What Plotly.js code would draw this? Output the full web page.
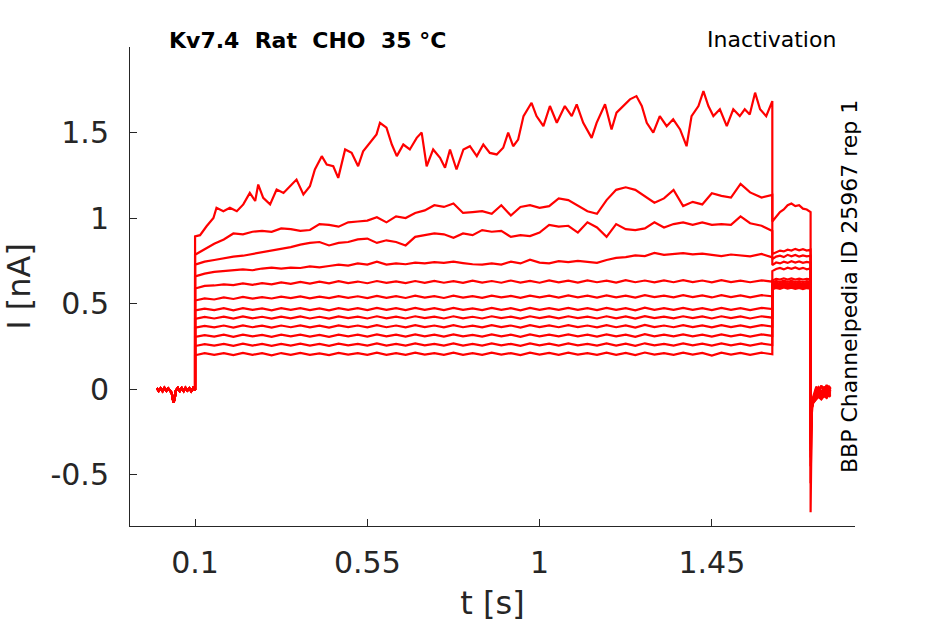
<!DOCTYPE html>
<html>
<head>
<meta charset="utf-8">
<script src="https://cdn.plot.ly/plotly-3.0.1.min.js"></script>
<style>
  html, body { margin: 0; padding: 0; background: #fff; }
  #chart { width: 945px; height: 624px; }
</style>
</head>
<body>
<div id="chart"></div>
<script>
  // holding period before the step (all sweeps overlap here)
  const baseTime = [0, 0.005, 0.01, 0.015, 0.02, 0.025, 0.03, 0.035, 0.039, 0.042, 0.044, 0.047,
    0.05, 0.055, 0.06, 0.065, 0.07, 0.075, 0.08, 0.085, 0.09, 0.095, 0.1];
  const baseCurrent = [0.006, -0.01, 0.005, -0.012, 0.008, -0.009, 0.004, -0.013, -0.022, -0.06, -0.078, -0.05,
    -0.008, 0.007, -0.011, 0.006, -0.012, 0.008, -0.008, 0.005, -0.012, 0.006, -0.005];

  // top sweep, read point by point
  const sweep1Time = [0.1, 0.113, 0.13, 0.148, 0.156, 0.174, 0.191, 0.209, 0.226, 0.243, 0.257, 0.265,
    0.278, 0.296, 0.313, 0.331, 0.348, 0.365, 0.383, 0.4, 0.413, 0.431, 0.444, 0.461, 0.474, 0.492,
    0.509, 0.526, 0.539, 0.557, 0.574, 0.583, 0.6, 0.614, 0.627, 0.644, 0.661, 0.679, 0.692, 0.705,
    0.722, 0.74, 0.753, 0.766, 0.783, 0.801, 0.818, 0.836, 0.853, 0.87, 0.888, 0.905, 0.918, 0.931,
    0.944, 0.958, 0.979, 0.992, 1.01, 1.027, 1.045, 1.066, 1.084, 1.097, 1.114, 1.136, 1.149, 1.171,
    1.188, 1.201, 1.219, 1.236, 1.253, 1.267, 1.28, 1.297, 1.314, 1.332, 1.349, 1.367, 1.384, 1.397,
    1.415, 1.428, 1.441, 1.454, 1.471, 1.489, 1.506, 1.523, 1.536, 1.549, 1.563, 1.576, 1.592, 1.608];
  const sweep1Current = [0.893, 0.9, 0.952, 1.0, 1.06, 1.04, 1.06, 1.04, 1.08, 1.147, 1.1, 1.196,
    1.118, 1.08, 1.167, 1.147, 1.186, 1.225, 1.138, 1.186, 1.284, 1.362, 1.313, 1.303, 1.235, 1.401,
    1.381, 1.303, 1.39, 1.44, 1.489, 1.557, 1.528, 1.43, 1.362, 1.43, 1.401, 1.469, 1.5, 1.303,
    1.401, 1.352, 1.294, 1.401, 1.284, 1.401, 1.42, 1.362, 1.43, 1.381, 1.372, 1.411, 1.499, 1.42,
    1.459, 1.596, 1.674, 1.596, 1.537, 1.655, 1.557, 1.655, 1.596, 1.665, 1.557, 1.469, 1.557, 1.665,
    1.518, 1.616, 1.655, 1.694, 1.713, 1.655, 1.557, 1.499, 1.596, 1.537, 1.577, 1.518, 1.42, 1.596,
    1.655, 1.742, 1.655, 1.596, 1.636, 1.537, 1.636, 1.596, 1.636, 1.606, 1.733, 1.636, 1.596, 1.684];

  // the other sweeps share a 25 ms grid during the step
  const stepTime = [
    0.1, 0.125, 0.15, 0.175, 0.2, 0.225, 0.25, 0.275, 0.3, 0.325,
    0.35, 0.375, 0.4, 0.425, 0.45, 0.475, 0.5, 0.525, 0.55, 0.575,
    0.6, 0.625, 0.65, 0.675, 0.7, 0.725, 0.75, 0.775, 0.8, 0.825,
    0.85, 0.875, 0.9, 0.925, 0.95, 0.975, 1.0, 1.025, 1.05, 1.075,
    1.1, 1.125, 1.15, 1.175, 1.2, 1.225, 1.25, 1.275, 1.3, 1.325,
    1.35, 1.375, 1.4, 1.425, 1.45, 1.475, 1.5, 1.525, 1.55, 1.58,
    1.608];
  const sweep2Current = [
    0.786, 0.82, 0.85, 0.875, 0.91, 0.905, 0.92, 0.925, 0.92, 0.94,
    0.935, 0.925, 0.93, 0.965, 0.96, 0.95, 0.975, 0.98, 0.985, 1.005,
    0.975, 1.01, 1.0, 1.03, 1.045, 1.075, 1.065, 1.085, 1.03, 1.035,
    1.04, 1.025, 1.075, 1.015, 1.065, 1.075, 1.06, 1.07, 1.115, 1.105,
    1.07, 1.04, 1.025, 1.105, 1.165, 1.18, 1.165, 1.13, 1.09, 1.115,
    1.165, 1.07, 1.095, 1.08, 1.145, 1.13, 1.12, 1.2, 1.15, 1.12,
    1.135];
  const sweep3Current = [
    0.728, 0.745, 0.755, 0.765, 0.775, 0.78, 0.79, 0.8, 0.81, 0.82,
    0.83, 0.845, 0.855, 0.86, 0.84, 0.855, 0.86, 0.875, 0.88, 0.855,
    0.87, 0.86, 0.84, 0.89, 0.9, 0.91, 0.905, 0.885, 0.91, 0.9,
    0.93, 0.92, 0.925, 0.89, 0.9, 0.895, 0.915, 0.96, 0.95, 0.955,
    0.915, 0.975, 0.945, 0.89, 0.965, 0.935, 0.93, 0.94, 0.975, 0.945,
    0.965, 0.975, 0.96, 0.975, 0.96, 0.965, 0.96, 1.01, 0.97, 0.955,
    0.925];
  const sweep4Current = [
    0.659, 0.675, 0.685, 0.69, 0.695, 0.7, 0.695, 0.705, 0.71, 0.705,
    0.71, 0.708, 0.718, 0.712, 0.72, 0.728, 0.722, 0.735, 0.728, 0.745,
    0.728, 0.735, 0.73, 0.74, 0.735, 0.742, 0.738, 0.745, 0.737, 0.73,
    0.728, 0.735, 0.728, 0.745, 0.735, 0.757, 0.74, 0.735, 0.748, 0.742,
    0.75, 0.744, 0.738, 0.755, 0.767, 0.772, 0.782, 0.778, 0.796, 0.785,
    0.79, 0.795, 0.788, 0.792, 0.785, 0.778, 0.787, 0.781, 0.776, 0.79,
    0.77];
  const sweep5Current = [
    0.588, 0.604, 0.606, 0.612, 0.608, 0.618, 0.61, 0.62, 0.612, 0.624,
    0.616, 0.627, 0.617, 0.628, 0.618, 0.631, 0.62, 0.629, 0.619, 0.632,
    0.621, 0.63, 0.62, 0.632, 0.621, 0.633, 0.622, 0.631, 0.621, 0.634,
    0.623, 0.632, 0.622, 0.635, 0.623, 0.633, 0.622, 0.636, 0.624, 0.634,
    0.623, 0.636, 0.625, 0.634, 0.623, 0.637, 0.625, 0.635, 0.624, 0.636,
    0.625, 0.637, 0.626, 0.635, 0.624, 0.637, 0.626, 0.634, 0.625, 0.636,
    0.628];
  const sweep6Current = [
    0.518, 0.53, 0.524, 0.536, 0.527, 0.539, 0.529, 0.538, 0.53, 0.541,
    0.532, 0.542, 0.531, 0.541, 0.532, 0.544, 0.534, 0.543, 0.532, 0.545,
    0.534, 0.544, 0.533, 0.546, 0.535, 0.544, 0.533, 0.546, 0.535, 0.544,
    0.534, 0.547, 0.536, 0.545, 0.534, 0.547, 0.537, 0.546, 0.535, 0.548,
    0.537, 0.546, 0.535, 0.548, 0.536, 0.547, 0.535, 0.549, 0.538, 0.547,
    0.537, 0.549, 0.538, 0.548, 0.536, 0.549, 0.538, 0.548, 0.537, 0.549,
    0.543];
  const sweep7Current = [
    0.46, 0.471, 0.462, 0.473, 0.461, 0.474, 0.463, 0.472, 0.461, 0.473,
    0.463, 0.474, 0.462, 0.472, 0.461, 0.474, 0.464, 0.473, 0.462, 0.475,
    0.463, 0.473, 0.462, 0.475, 0.464, 0.473, 0.462, 0.475, 0.463, 0.472,
    0.462, 0.475, 0.464, 0.473, 0.461, 0.475, 0.464, 0.474, 0.463, 0.475,
    0.464, 0.473, 0.462, 0.475, 0.463, 0.474, 0.461, 0.476, 0.464, 0.473,
    0.463, 0.475, 0.464, 0.474, 0.462, 0.475, 0.464, 0.474, 0.462, 0.475,
    0.468];
  const sweep8Current = [
    0.411, 0.422, 0.413, 0.424, 0.412, 0.425, 0.414, 0.423, 0.412, 0.424,
    0.414, 0.425, 0.413, 0.423, 0.412, 0.425, 0.415, 0.424, 0.413, 0.426,
    0.414, 0.424, 0.413, 0.426, 0.415, 0.424, 0.413, 0.426, 0.414, 0.423,
    0.413, 0.426, 0.415, 0.424, 0.412, 0.426, 0.415, 0.425, 0.414, 0.426,
    0.415, 0.424, 0.413, 0.426, 0.414, 0.425, 0.412, 0.427, 0.415, 0.424,
    0.414, 0.426, 0.415, 0.425, 0.413, 0.426, 0.415, 0.425, 0.413, 0.426,
    0.418];
  const sweep9Current = [
    0.359, 0.37, 0.361, 0.372, 0.36, 0.373, 0.362, 0.371, 0.36, 0.372,
    0.362, 0.373, 0.361, 0.371, 0.36, 0.373, 0.363, 0.372, 0.361, 0.374,
    0.362, 0.372, 0.361, 0.374, 0.363, 0.372, 0.361, 0.374, 0.362, 0.371,
    0.361, 0.374, 0.363, 0.372, 0.36, 0.374, 0.363, 0.373, 0.362, 0.374,
    0.363, 0.372, 0.361, 0.374, 0.362, 0.373, 0.36, 0.375, 0.363, 0.372,
    0.362, 0.374, 0.363, 0.373, 0.361, 0.374, 0.363, 0.373, 0.361, 0.374,
    0.366];
  const sweep10Current = [
    0.305, 0.316, 0.307, 0.318, 0.306, 0.319, 0.308, 0.317, 0.306, 0.318,
    0.308, 0.319, 0.307, 0.317, 0.306, 0.319, 0.309, 0.318, 0.307, 0.32,
    0.308, 0.318, 0.307, 0.32, 0.309, 0.318, 0.307, 0.32, 0.308, 0.317,
    0.307, 0.32, 0.309, 0.318, 0.306, 0.32, 0.309, 0.319, 0.308, 0.32,
    0.309, 0.318, 0.307, 0.32, 0.308, 0.319, 0.306, 0.321, 0.309, 0.318,
    0.308, 0.32, 0.309, 0.319, 0.307, 0.32, 0.309, 0.319, 0.307, 0.32,
    0.311];
  const sweep11Current = [
    0.252, 0.263, 0.254, 0.265, 0.253, 0.266, 0.255, 0.264, 0.253, 0.265,
    0.255, 0.266, 0.254, 0.264, 0.253, 0.266, 0.256, 0.265, 0.254, 0.267,
    0.255, 0.265, 0.254, 0.267, 0.256, 0.265, 0.254, 0.267, 0.255, 0.264,
    0.254, 0.267, 0.256, 0.265, 0.253, 0.267, 0.256, 0.266, 0.255, 0.267,
    0.256, 0.265, 0.254, 0.267, 0.255, 0.266, 0.253, 0.268, 0.256, 0.265,
    0.255, 0.267, 0.256, 0.266, 0.254, 0.267, 0.256, 0.266, 0.254, 0.267,
    0.258];
  const sweep12Current = [
    0.198, 0.21, 0.2, 0.211, 0.199, 0.212, 0.201, 0.21, 0.198, 0.211,
    0.2, 0.212, 0.201, 0.209, 0.199, 0.212, 0.202, 0.211, 0.2, 0.213,
    0.201, 0.211, 0.2, 0.213, 0.202, 0.211, 0.2, 0.213, 0.201, 0.21,
    0.2, 0.213, 0.202, 0.211, 0.199, 0.213, 0.202, 0.212, 0.201, 0.213,
    0.202, 0.211, 0.2, 0.213, 0.201, 0.212, 0.199, 0.214, 0.202, 0.211,
    0.201, 0.213, 0.202, 0.212, 0.196, 0.213, 0.202, 0.212, 0.2, 0.213,
    0.204];

  // test pulse after the step
  const pulseTime = [1.608, 1.618, 1.628, 1.638, 1.648, 1.658, 1.668, 1.678, 1.688, 1.698, 1.708];
  const pulseCurrent = [
    [0.98, 1.01, 1.035, 1.05, 1.075, 1.085, 1.07, 1.075, 1.055, 1.05, 1.035],
    [0.79, 0.8, 0.81, 0.805, 0.815, 0.81, 0.82, 0.812, 0.818, 0.81, 0.815],
    [0.76, 0.775, 0.78, 0.772, 0.785, 0.776, 0.784, 0.775, 0.782, 0.776, 0.78],
    [0.725, 0.74, 0.735, 0.745, 0.738, 0.748, 0.74, 0.746, 0.738, 0.744, 0.74],
    [0.69, 0.702, 0.708, 0.7, 0.71, 0.703, 0.711, 0.702, 0.709, 0.7, 0.706],
    [0.635, 0.645, 0.64, 0.648, 0.641, 0.647, 0.64, 0.646, 0.64, 0.645, 0.641],
    [0.622, 0.632, 0.626, 0.634, 0.627, 0.633, 0.626, 0.632, 0.625, 0.631, 0.628],
    [0.612, 0.622, 0.616, 0.624, 0.617, 0.623, 0.616, 0.622, 0.615, 0.621, 0.618],
    [0.604, 0.614, 0.608, 0.616, 0.609, 0.615, 0.608, 0.614, 0.607, 0.613, 0.61],
    [0.597, 0.607, 0.601, 0.609, 0.602, 0.608, 0.601, 0.607, 0.6, 0.606, 0.603],
    [0.59, 0.6, 0.594, 0.602, 0.595, 0.601, 0.594, 0.6, 0.593, 0.599, 0.596],
    [0.582, 0.592, 0.586, 0.594, 0.587, 0.593, 0.586, 0.592, 0.585, 0.591, 0.588],
  ];

  // return to holding: capacitive spike and tail
  const tailTime = [1.708, 1.709, 1.711, 1.714, 1.718, 1.723, 1.729, 1.736, 1.743, 1.75, 1.755, 1.76];
  const tailCurrent = [
    [-0.72, -0.32, -0.15, -0.07, -0.03, 0.01, -0.02, 0.02, -0.01, 0.025, 0.0, 0.015],
    [-0.55, -0.27, -0.12, -0.05, -0.02, 0.015, -0.01, 0.02, -0.015, 0.02, -0.005, 0.01],
    [-0.45, -0.24, -0.11, -0.06, -0.035, -0.01, 0.01, -0.02, 0.015, -0.01, 0.02, 0.0],
    [-0.4, -0.22, -0.12, -0.07, -0.045, -0.02, 0.0, -0.025, 0.005, -0.015, 0.01, -0.01],
    [-0.36, -0.2, -0.1, -0.065, -0.05, -0.03, -0.01, -0.035, -0.005, -0.02, 0.0, -0.015],
    [-0.32, -0.19, -0.11, -0.075, -0.055, -0.035, -0.02, -0.04, -0.015, -0.03, -0.01, -0.02],
    [-0.3, -0.18, -0.1, -0.07, -0.06, -0.04, -0.025, -0.045, -0.02, -0.035, -0.015, -0.025],
    [-0.28, -0.17, -0.1, -0.075, -0.06, -0.045, -0.03, -0.05, -0.025, -0.04, -0.02, -0.03],
    [-0.26, -0.16, -0.11, -0.08, -0.065, -0.05, -0.035, -0.05, -0.03, -0.045, -0.025, -0.035],
    [-0.24, -0.16, -0.1, -0.08, -0.065, -0.05, -0.04, -0.055, -0.035, -0.045, -0.03, -0.04],
    [-0.22, -0.15, -0.11, -0.085, -0.07, -0.055, -0.04, -0.055, -0.035, -0.05, -0.03, -0.04],
    [-0.2, -0.14, -0.1, -0.08, -0.07, -0.055, -0.045, -0.06, -0.04, -0.05, -0.035, -0.045],
  ];

  const stepSweeps = [
    [sweep1Time, sweep1Current],
    [stepTime, sweep2Current],
    [stepTime, sweep3Current],
    [stepTime, sweep4Current],
    [stepTime, sweep5Current],
    [stepTime, sweep6Current],
    [stepTime, sweep7Current],
    [stepTime, sweep8Current],
    [stepTime, sweep9Current],
    [stepTime, sweep10Current],
    [stepTime, sweep11Current],
    [stepTime, sweep12Current],
  ];

  const xTicks = [0.1, 0.55, 1, 1.45];
  const xTickText = ["0.1", "0.55", "1", "1.45"];
  const yTicks = [-0.5, 0, 0.5, 1, 1.5];
  const yTickText = ["-0.5", "0", "0.5", "1", "1.5"];

  const ink = "#262626";
  const font = "DejaVu Sans, sans-serif";

  const traces = stepSweeps.map(([t, i], k) => ({
    x: baseTime.concat(t, pulseTime, tailTime),
    y: baseCurrent.concat(i, pulseCurrent[k], tailCurrent[k]),
    type: "scatter",
    mode: "lines",
    line: { color: "#ff0000", width: 2.2 },
    hoverinfo: "skip",
    showlegend: false,
  }));

  const axisCommon = {
    showgrid: false,
    zeroline: false,
    showline: true,
    linecolor: ink,
    linewidth: 1,
    ticks: "inside",
    ticklen: 7,
    tickwidth: 1,
    tickcolor: ink,
    tickfont: { family: font, size: 30, color: ink },
    tickmode: "array",
  };

  const layout = {
    width: 945,
    height: 624,
    margin: { l: 130, r: 90, t: 47, b: 98 },
    paper_bgcolor: "#ffffff",
    plot_bgcolor: "#ffffff",
    font: { family: font, color: ink },
    xaxis: {
      ...axisCommon,
      range: [-0.07, 1.824],
      tickvals: xTicks,
      ticktext: xTickText,
      ticklabelstandoff: 10,
      title: { text: "t [s]", font: { family: font, size: 32, color: ink }, standoff: 12 },
    },
    yaxis: {
      ...axisCommon,
      range: [-0.8, 2.0],
      tickvals: yTicks,
      ticktext: yTickText,
      ticklabelstandoff: 14,
      title: { text: "I [nA]", font: { family: font, size: 32, color: ink }, standoff: 14 },
    },
    annotations: [
      {
        text: "<b>Kv7.4\u00a0\u00a0Rat\u00a0\u00a0CHO\u00a0\u00a035\u00a0°C</b>",
        xref: "paper", yref: "paper", x: 0.051, y: 1.0146,
        xanchor: "left", yanchor: "middle", showarrow: false,
        font: { family: font, size: 22, color: "#000000" },
      },
      {
        text: "Inactivation",
        xref: "paper", yref: "paper", x: 0.9766, y: 1.0167,
        xanchor: "right", yanchor: "middle", showarrow: false,
        font: { family: font, size: 22, color: "#000000" },
      },
      {
        text: "BBP Channelpedia ID 25967 rep 1",
        xref: "paper", yref: "paper", x: 0.9917, y: 0.501,
        xanchor: "center", yanchor: "middle", textangle: -90, showarrow: false,
        font: { family: font, size: 22, color: "#000000" },
      },
    ],
  };

  Plotly.newPlot("chart", traces, layout, { displayModeBar: false, staticPlot: true });
</script>
</body>
</html>
